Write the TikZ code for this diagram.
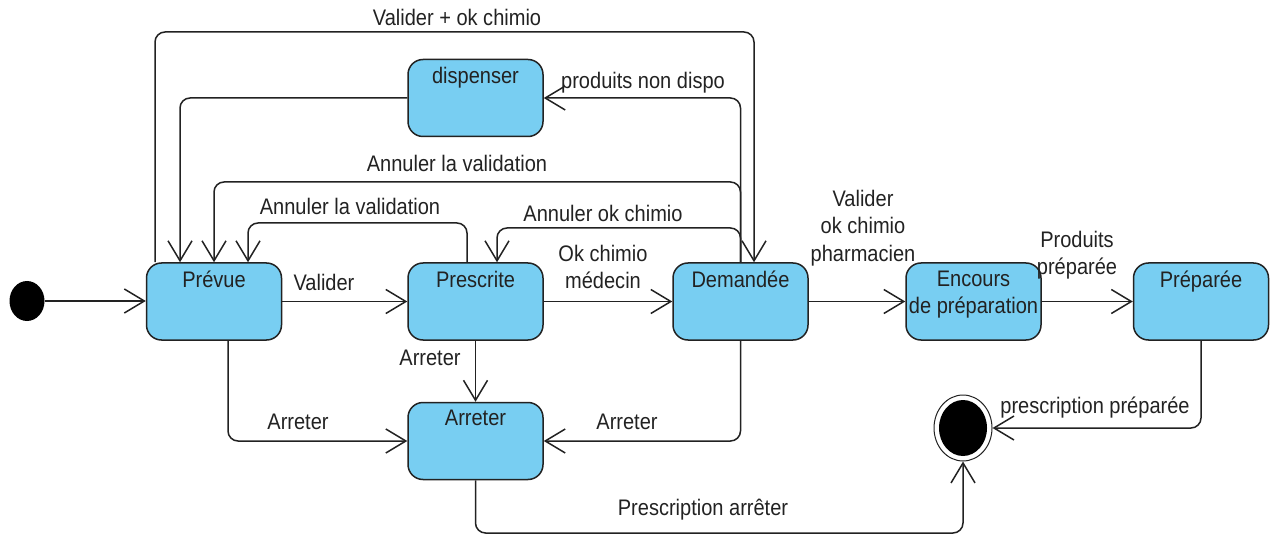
\documentclass[tikz,border=0pt]{standalone}
\usepackage{fontspec}
\setmainfont[FakeStretch=0.89]{Liberation Sans}
\usetikzlibrary{arrows.meta,calc,shapes.geometric}
\definecolor{stfill}{RGB}{120,206,242}
\definecolor{ink}{RGB}{34,34,34}

\begin{document}
\begin{tikzpicture}[x=1pt,y=-1pt,
  state/.style={draw=ink, line width=1.5pt, fill=stfill, rounded corners=15pt,
    minimum width=135pt, minimum height=77pt, inner sep=0pt},
  lbl/.style={text=ink, font=\fontsize{22.5}{27.5}\selectfont, align=center, inner sep=0pt},
  title/.style={label={[lbl, anchor=north, yshift=-8.5pt]north:#1}},
  tr/.style={draw=ink, line width=1.5pt, rounded corners=10pt,
    -{Straight Barb[length=20pt,width=24pt,line width=1.5pt]}},
]
\useasboundingbox (0,0) rectangle (1279,537);

% states
\node[state, title=Prévue]    (prevue)    at (214,301.5) {};
\node[state, title=Prescrite] (prescrite) at (475.5,301.5) {};
\node[state, title=Demandée]  (demandee)  at (740.5,301.5) {};
\node[state, title={Encours\\de préparation}] (encours) at (973.5,301.5) {};
\node[state, title=Préparée]  (preparee)  at (1201,301.5) {};
\node[state, title=Arreter]   (arreter)   at (475.5,441) {};
\node[state, title=dispenser] (dispenser) at (475.5,98) {};

% initial and final pseudo-states
\node[ellipse, fill=black, minimum width=35pt, minimum height=40pt, inner sep=0pt] (init) at (27,301) {};
\node[ellipse, draw=ink, line width=1pt, fill=white, minimum width=58pt, minimum height=66pt, inner sep=0pt] (fin) at (963,428) {};
\node[ellipse, fill=black, minimum width=48pt, minimum height=56pt, inner sep=0pt] (finin) at (fin.center) {};

% helper coordinates for routing
\coordinate (yTop) at (0,32);
\coordinate (yB) at (0,182);
\coordinate (yC) at (0,228);
\coordinate (yD) at (0,223);
\coordinate (yBot) at (0,533);
\coordinate (pvOut) at ([xshift=-59pt]prevue.north);
\coordinate (pvIn1) at ([xshift=-34pt]prevue.north);
\coordinate (pvIn3) at ([xshift=34pt]prevue.north);
\coordinate (pvS) at ([xshift=14pt]prevue.south);
\coordinate (psIn) at ([xshift=21.5pt]prescrite.north);
\coordinate (psOut) at ([xshift=-8.5pt]prescrite.north);
\coordinate (dmIn) at ([xshift=13.5pt]demandee.north);

% main flow
\draw[tr] (init.east) -- (init.east -| prevue.west);
\draw[tr] (prevue.east) -- (prescrite.west);
\draw[tr] (prescrite.east) -- (demandee.west);
\draw[tr] (demandee.east) -- (encours.west);
\draw[tr] (encours.east) -- (preparee.west);
\draw[tr] (preparee.south) |- (fin.east);

% stop transitions
\draw[tr] (pvS) |- (arreter.west);
\draw[tr] (demandee.south) |- (arreter.east);
\draw[tr] (prescrite.south) -- (arreter.north);
\draw[tr] (arreter.south) -- (arreter.south |- yBot) -- (fin.south |- yBot) -- (fin.south);

% back and upper transitions
\draw[tr] (pvOut) -- (pvOut |- yTop) -- (dmIn |- yTop) -- (dmIn);
\draw[tr] (dispenser.west) -| (pvIn1);
\draw[tr] (demandee.north) |- (dispenser.east);
\draw[tr] (demandee.north) -- (demandee.north |- yB) -| (prevue.north);
\draw[tr] (demandee.north) -- (demandee.north |- yC) -| (psIn);
\draw[tr] (psOut) -- (psOut |- yD) -| (pvIn3);

% transition labels
\node[lbl] (l1)  at (457,17)   {Valider + ok chimio};
\node[lbl] (l2)  at (643,83)   {produits non dispo};
\node[lbl] (l3)  at (457,163)  {Annuler la validation};
\node[lbl] (l4)  at (350,206)  {Annuler la validation};
\node[lbl] (l5)  at (603,213)  {Annuler ok chimio};
\node[lbl] (l6)  at (324,282)  {Valider};
\node[lbl] (l7)  at (603,267)  {Ok chimio\\médecin};
\node[lbl] (l8)  at (863,228)  {Valider\\ok chimio\\pharmacien};
\node[lbl] (l9)  at (1077,255) {Produits\\préparée};
\node[lbl] (l10) at (430,358)  {Arreter};
\node[lbl] (l11) at (298,422)  {Arreter};
\node[lbl] (l12) at (627,422)  {Arreter};
\node[lbl] (l13) at (703,510)  {Prescription arrêter};
\node[lbl] (l14) at (1095,408) {prescription préparée};
\end{tikzpicture}
\end{document}
